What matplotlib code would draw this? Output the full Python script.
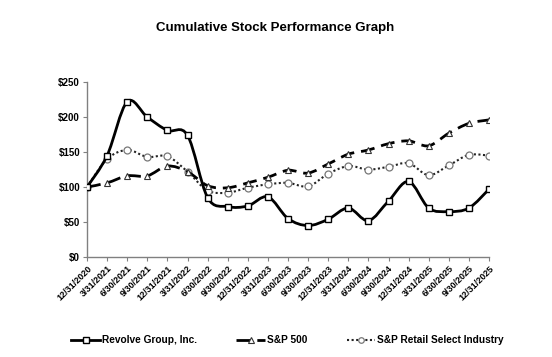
import matplotlib
matplotlib.use("Agg")
import matplotlib.pyplot as plt
from matplotlib.path import Path
from matplotlib.patches import PathPatch
from matplotlib.lines import Line2D
import numpy as np

plt.rcParams['font.family'] = ['Liberation Sans', 'DejaVu Sans']

dates = ["12/31/2020", "3/31/2021", "6/30/2021", "9/30/2021", "12/31/2021",
         "3/31/2022", "6/30/2022", "9/30/2022", "12/31/2022", "3/31/2023",
         "6/30/2023", "9/30/2023", "12/31/2023", "3/31/2024", "6/30/2024",
         "9/30/2024", "12/31/2024", "3/31/2025", "6/30/2025", "9/30/2025",
         "12/31/2025"]
revolve = [100, 145, 222, 200, 181, 174, 85, 72, 73, 86, 55, 45, 54, 70, 52,
           80, 108, 70, 65, 70, 97]
sp500 = [100, 106, 116, 116, 130, 122, 102, 99, 106, 114, 124, 120, 133, 147,
         153, 162, 166, 159, 177, 191, 196]
retail = [100, 140, 153, 143, 144, 122, 95, 92, 99, 104, 106, 101, 119, 130,
          125, 129, 134, 117, 131, 146, 145]
yticks = [0, 50, 100, 150, 200, 250]
series_names = ["Revolve Group, Inc.", "S&P 500", "S&P Retail Select Industry"]

fig = plt.figure(figsize=(5.52, 3.57), dpi=100)
ax = fig.add_axes([0.1576, 0.280, 0.7283, 0.490])

x = np.arange(len(dates))


def smooth_path(xs, ys):
    xs = np.asarray(xs, float)
    ys = np.asarray(ys, float)
    verts = [(xs[0], ys[0])]
    codes = [Path.MOVETO]
    n = len(xs)
    for i in range(n - 1):
        p0 = (xs[max(i - 1, 0)], ys[max(i - 1, 0)])
        p1 = (xs[i], ys[i])
        p2 = (xs[i + 1], ys[i + 1])
        p3 = (xs[min(i + 2, n - 1)], ys[min(i + 2, n - 1)])
        c1 = (p1[0] + (p2[0] - p0[0]) / 6, p1[1] + (p2[1] - p0[1]) / 6)
        c2 = (p2[0] - (p3[0] - p1[0]) / 6, p2[1] - (p3[1] - p1[1]) / 6)
        verts += [c1, c2, p2]
        codes += [Path.CURVE4] * 3
    return Path(verts, codes)


styles = [
    dict(color='black', lw=2.0, ls='-', marker='s', ms=5, mfc='white',
         mec='black', mew=1.0, z=5),
    dict(color='black', lw=2.0, ls=(0, (5, 2.5)), marker='^', ms=5,
         mfc='white', mec='#333333', mew=0.8, z=4),
    dict(color='#222222', lw=1.5, ls=(0, (1, 1.2)), marker='o', ms=5,
         mfc='white', mec='#777777', mew=0.9, z=3),
]

handles = []
for vals, st, name in zip([revolve, sp500, retail], styles, series_names):
    patch = PathPatch(smooth_path(x, vals), facecolor='none',
                      edgecolor=st['color'], lw=st['lw'], linestyle=st['ls'],
                      zorder=st['z'], capstyle='butt')
    ax.add_patch(patch)
    ax.plot(x, vals, ls='none', marker=st['marker'], ms=st['ms'],
            mfc=st['mfc'], mec=st['mec'], mew=st['mew'], zorder=st['z'] + 0.5)
    handles.append(Line2D([], [], color=st['color'], lw=st['lw'],
                          ls=st['ls'], marker=st['marker'], ms=4,
                          mfc=st['mfc'], mec=st['mec'], mew=st['mew'],
                          label=name))

ax.set_xlim(0, len(dates) - 1)
ax.set_ylim(0, 250)
ax.set_xticks(x)
ax.set_xticklabels(dates, rotation=45, ha='right', rotation_mode='anchor',
                   fontsize=6.5, fontweight='bold')
ax.set_yticks(yticks)
ax.set_yticklabels([f"${v}" for v in yticks], fontsize=7, fontweight='bold')

for s in ['top', 'right']:
    ax.spines[s].set_visible(False)
for s in ['left', 'bottom']:
    ax.spines[s].set_color('#808080')
    ax.spines[s].set_linewidth(1.0)
ax.tick_params(axis='x', direction='out', length=3, width=0.8,
               color='#808080', pad=2)
ax.tick_params(axis='y', direction='out', length=3, width=0.8,
               color='#808080', pad=2)

fig.text(0.498, 0.921, "Cumulative Stock Performance Graph", ha='center',
         va='center', fontsize=9.5, fontweight='bold')

fig.legend(handles=handles, loc='center', bbox_to_anchor=(0.521, 0.047),
           ncol=3, frameon=False,
           prop={'weight': 'bold', 'size': 7.3}, handlelength=2.8,
           columnspacing=3.9, handletextpad=0.2)

fig.savefig("out.png", dpi=100)
